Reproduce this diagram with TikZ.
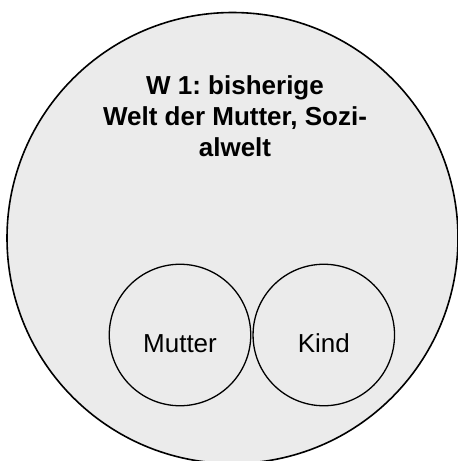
\documentclass[tikz,border=0pt]{standalone}
\usepackage{fontspec}
\setmainfont{Liberation Sans}
\frenchspacing
\definecolor{bgfill}{HTML}{EBEBEB}
\begin{document}
\begin{tikzpicture}[x=1pt,y=-1pt,
  world/.style={circle,draw=black,line width=1.6pt,fill=bgfill,minimum size=451pt,inner sep=0pt},
  person/.style={circle,draw=black,line width=1.3pt,fill=bgfill,minimum size=141.5pt,inner sep=0pt},
  lbl/.style={inner sep=0pt,font=\fontsize{26}{31}\selectfont}]
\useasboundingbox (0,0) rectangle (458,461);
\begin{scope}
\clip (0,0) rectangle (458,461);
\node[world] (w1) at (232.5,238) {};
\end{scope}
\node[lbl,align=center,font=\bfseries\fontsize{26}{31}\selectfont] (title) at (235,116) {W 1: bisherige\\Welt der Mutter, Sozi-\\alwelt};
\node[person] (mutter) at (180,335) {};
\node[person] (kind) at (323.8,335) {};
\node[lbl,anchor=base] (mt) at (180,352.7) {Mutter};
\node[lbl,anchor=base] (kt) at (323.8,352.7) {Kind};
\end{tikzpicture}
\end{document}
